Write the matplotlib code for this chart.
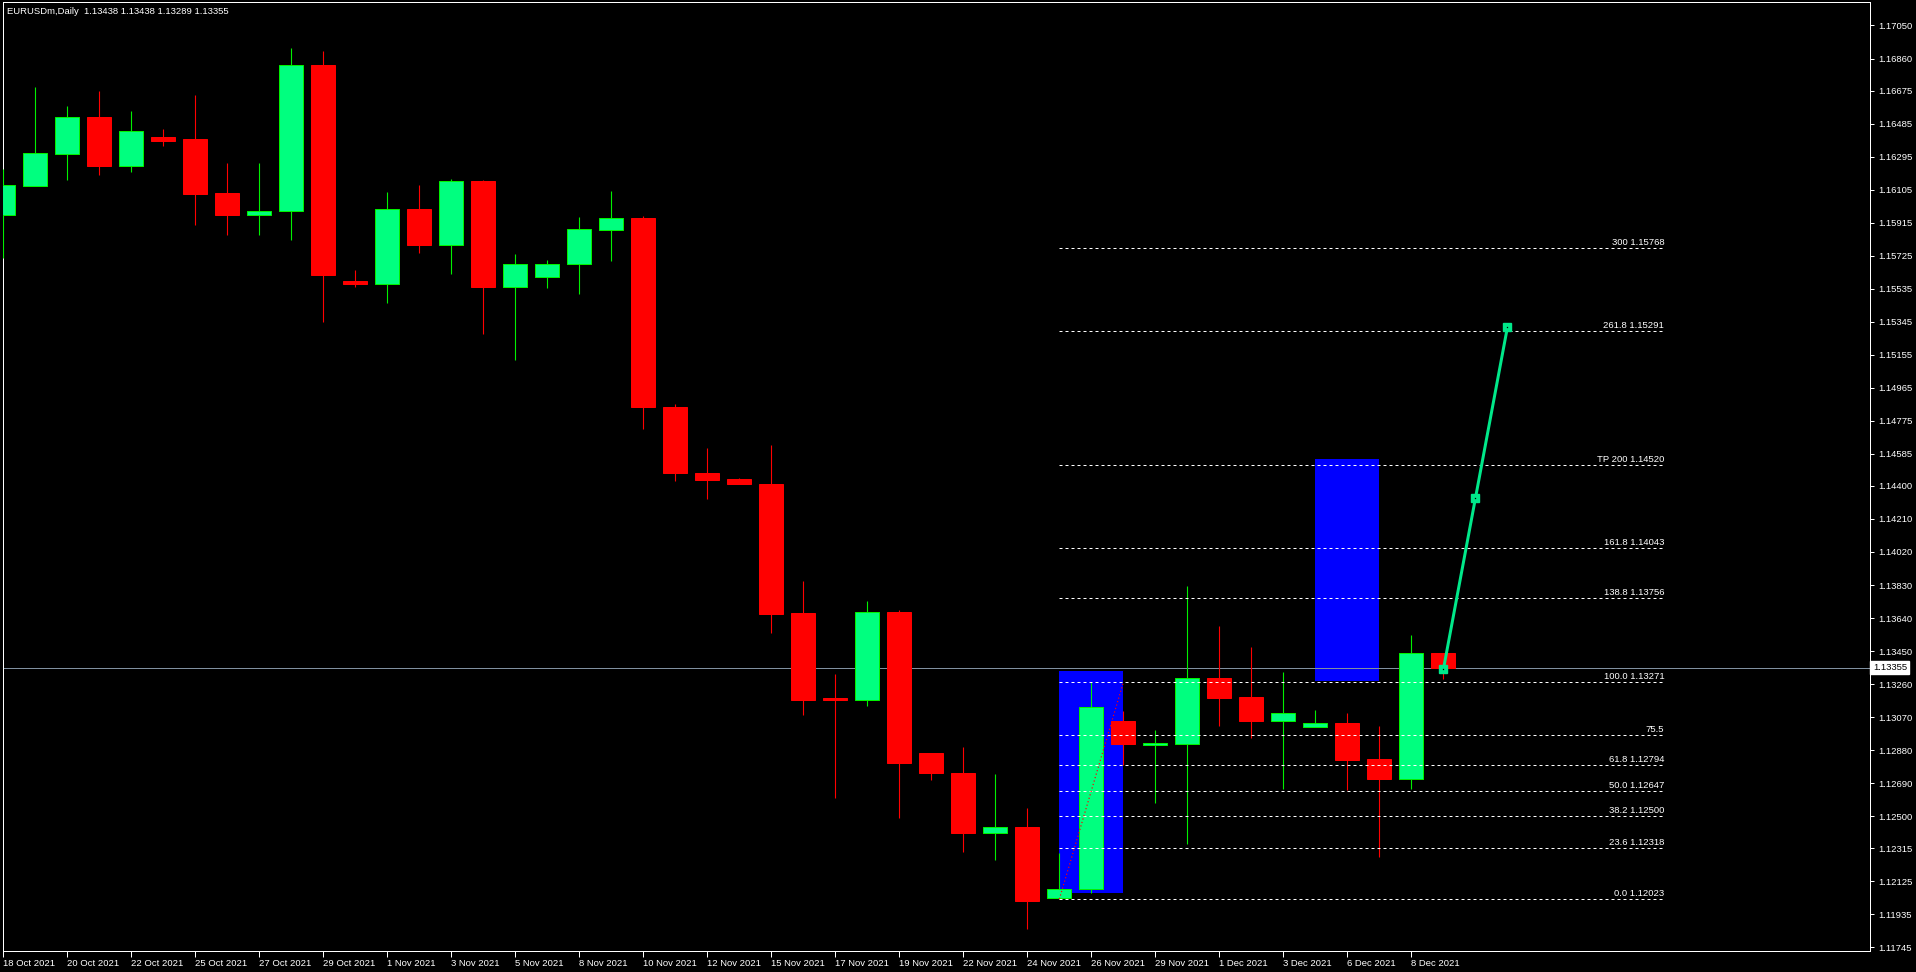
import matplotlib
matplotlib.use('Agg')
import matplotlib.pyplot as plt
from matplotlib.patches import Rectangle

# Daily bars, EURUSDm (Sunday bars included by the broker)
dates = ['18 Oct', '19 Oct', '20 Oct', '21 Oct', '22 Oct', '24 Oct', '25 Oct', '26 Oct',
         '27 Oct', '28 Oct', '29 Oct', '31 Oct', '1 Nov', '2 Nov', '3 Nov', '4 Nov',
         '5 Nov', '7 Nov', '8 Nov', '9 Nov', '10 Nov', '11 Nov', '12 Nov', '14 Nov',
         '15 Nov', '16 Nov', '17 Nov', '18 Nov', '19 Nov', '21 Nov', '22 Nov', '23 Nov',
         '24 Nov', '25 Nov', '26 Nov', '28 Nov', '29 Nov', '30 Nov', '1 Dec', '2 Dec',
         '3 Dec', '5 Dec', '6 Dec', '7 Dec', '8 Dec', '9 Dec']
opens = [1.15961, 1.16128, 1.16312, 1.16522, 1.16241, 1.16407, 1.16395, 1.16084,
         1.15961, 1.15984, 1.16821, 1.15578, 1.15563, 1.15992, 1.15789, 1.16153,
         1.15547, 1.15605, 1.15680, 1.15875, 1.15944, 1.14856, 1.14472, 1.14440,
         1.14412, 1.13670, 1.13178, 1.13169, 1.13676, 1.12863, 1.12749, 1.12405,
         1.12437, 1.12030, 1.12079, 1.13047, 1.12909, 1.12917, 1.13293, 1.13184,
         1.13049, 1.13015, 1.13034, 1.12827, 1.12715, 1.13438]
highs = [1.16224, 1.16696, 1.16587, 1.16673, 1.16558, 1.16454, 1.16650, 1.16259,
         1.16259, 1.16920, 1.16903, 1.15643, 1.16092, 1.16132, 1.16167, 1.16161,
         1.15735, 1.15700, 1.15949, 1.16095, 1.15955, 1.14870, 1.14618, 1.14446,
         1.14635, 1.13854, 1.13318, 1.13739, 1.13687, 1.12863, 1.12897, 1.12743,
         1.12547, 1.12286, 1.13271, 1.13107, 1.12996, 1.13824, 1.13594, 1.13472,
         1.13328, 1.13109, 1.13093, 1.13019, 1.13542, 1.13438]
lows = [1.15714, 1.16125, 1.16161, 1.16190, 1.16207, 1.16357, 1.15902, 1.15844,
        1.15844, 1.15816, 1.15344, 1.15545, 1.15453, 1.15741, 1.15620, 1.15275,
        1.15125, 1.15537, 1.15502, 1.15697, 1.14730, 1.14426, 1.14323, 1.14409,
        1.13556, 1.13081, 1.12602, 1.13132, 1.12491, 1.12708, 1.12294, 1.12247,
        1.11850, 1.12023, 1.12060, 1.12796, 1.12577, 1.12341, 1.13020, 1.12951,
        1.12656, 1.13011, 1.12650, 1.12266, 1.12656, 1.13289]
closes = [1.16130, 1.16314, 1.16522, 1.16241, 1.16441, 1.16387, 1.16080, 1.15961,
          1.15981, 1.16821, 1.15614, 1.15563, 1.15992, 1.15787, 1.16153, 1.15545,
          1.15676, 1.15680, 1.15878, 1.15944, 1.14853, 1.14472, 1.14432, 1.14409,
          1.13661, 1.13169, 1.13170, 1.13676, 1.12803, 1.12746, 1.12405, 1.12439,
          1.12013, 1.12079, 1.13126, 1.12917, 1.12919, 1.13293, 1.13181, 1.13049,
          1.13092, 1.13034, 1.12825, 1.12715, 1.13437, 1.13355]

# price scale labels
yticks = [1.17050, 1.16860, 1.16675, 1.16485, 1.16295, 1.16105, 1.15915, 1.15725,
          1.15535, 1.15345, 1.15155, 1.14965, 1.14775, 1.14585, 1.14400, 1.14210,
          1.14020, 1.13830, 1.13640, 1.13450, 1.13260, 1.13070, 1.12880, 1.12690,
          1.12500, 1.12315, 1.12125, 1.11935, 1.11745]
bid = 1.13355

# fibonacci levels (label, price)
fib_names = ['0.0', '23.6', '38.2', '50.0', '61.8', '75.5', '100.0', '138.8', '161.8',
             'TP 200', '261.8', '300']
fib_prices = [1.12023, 1.12318, 1.12500, 1.12647, 1.12794, 1.12965, 1.13271, 1.13756,
              1.14043, 1.14520, 1.15291, 1.15768]
fib_start, fib_end = 33, 51.9

# rectangles: (x0, x1, low, high)
rects = [(33, 35, 1.12060, 1.13335), (41, 43, 1.13278, 1.14555)]
# projection line
proj_x = [45, 46, 47]
proj_y = [1.13345, 1.14329, 1.15313]

W, H = 1916, 972
fig = plt.figure(figsize=(W / 100, H / 100), dpi=100, facecolor='black')
ax = fig.add_axes([2.5 / W, 21 / H, (1870 - 2.5) / W, (951 - 2.3) / H])
ax.set_facecolor('black')

font = ['Liberation Sans', 'DejaVu Sans']
fs = 6.8
bull, bull_edge, bear = '#00FF7F', '#00F000', '#FF0000'
px = 0.72  # one pixel in points

n = len(opens)
xs = list(range(n))
bw = 0.75

for x0, x1, lo, hi in rects:
    ax.add_patch(Rectangle((x0, lo), x1 - x0, hi - lo, facecolor='#0000FF',
                           edgecolor='none', zorder=1))

ax.axhline(bid, color='#8090A0', lw=px, zorder=2)

for i in xs:
    o, h, l, c = opens[i], highs[i], lows[i], closes[i]
    up = c >= o
    col = bull_edge if up else bear
    ax.vlines(i, l, h, color=col, lw=px * 1.1, zorder=3)
    lo, hi = min(o, c), max(o, c)
    if hi - lo < 0.00004:
        mid = (hi + lo) / 2
        lo, hi = mid - 0.00003, mid + 0.00003
    ax.add_patch(Rectangle((i - bw / 2, lo), bw, hi - lo,
                           facecolor=bull if up else bear,
                           edgecolor=col, lw=px, zorder=4))

for name, p in zip(fib_names, fib_prices):
    ax.hlines(p, fib_start, fib_end, color='white', lw=px,
              linestyles=(0, (3, 3)), zorder=5)
    label = name if name == '75.5' else f'{name} {p:.5f}'
    ax.text(fib_end, p + 0.00006, label, color='white', fontsize=fs, family=font,
            ha='right', va='bottom', zorder=8)

ax.plot([fib_start, 35], [fib_prices[0], fib_prices[6]], color='#FF0000',
        lw=px * 1.2, linestyle=(0, (1, 2)), zorder=6)

ax.plot(proj_x, proj_y, color='#00E88A', lw=px * 3, zorder=7, solid_capstyle='butt')
ax.plot(proj_x, proj_y, 's', color='#00E88A', ms=5.2, mec='#00E88A', zorder=7)
ax.plot(proj_x, proj_y, 's', color='black', ms=0.9, mew=0, zorder=7.5)

ax.set_xlim(-0.025, 58.33)
ax.set_ylim(1.117237, 1.171835)

ax.yaxis.tick_right()
ax.set_yticks(yticks)
ax.set_yticklabels([f'{v:.5f}' for v in yticks])
ax.tick_params(axis='y', colors='white', length=3, width=px, pad=3, labelsize=fs)
tick_pos = xs[::2]
ax.set_xticks(tick_pos)
ax.set_xticklabels([dates[i] + ' 2021' for i in tick_pos], ha='left')
ax.tick_params(axis='x', colors='white', length=4, width=px, pad=2, labelsize=fs)
for lab in ax.get_xticklabels() + ax.get_yticklabels():
    lab.set_family(font)
for side in ['left', 'right', 'top', 'bottom']:
    ax.spines[side].set_color('white')
    ax.spines[side].set_linewidth(px)

# bid price box on the scale
ax.text(1.0015, bid, f'{bid:.5f}', transform=ax.get_yaxis_transform(), color='black',
        fontsize=fs, family=font, ha='left', va='center', zorder=10, clip_on=False,
        bbox=dict(boxstyle='square,pad=0.25', facecolor='white', edgecolor='white'))

fig.text(7 / W, 1 - 14 / H, 'EURUSDm,Daily  1.13438 1.13438 1.13289 1.13355',
         color='white', fontsize=fs, family=font, ha='left', va='baseline')

plt.savefig('out.png', dpi=100, facecolor='black')
plt.close()
